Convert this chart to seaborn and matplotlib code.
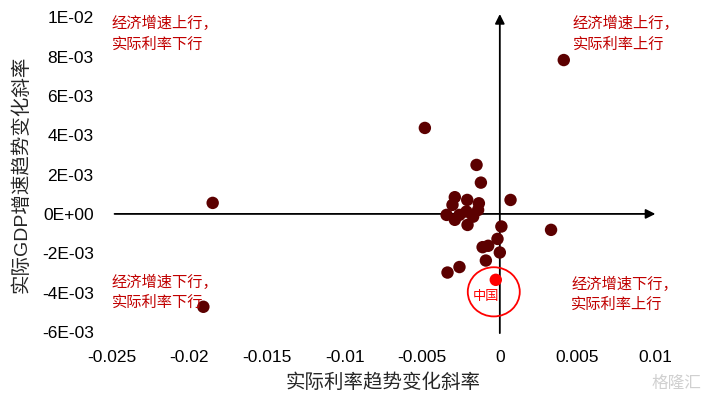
import matplotlib.pyplot as plt
import seaborn as sns
import pandas as pd
from matplotlib.patches import Ellipse

# 实际利率趋势变化斜率 / 实际GDP增速趋势变化斜率
rate_slope = [0.00412, -0.0185, -0.0191, -0.00483, 0.0033, 0.00069,
              -0.0015, -0.00122, -0.0029, -0.0021, -0.00135, -0.00305,
              -0.00343, -0.0029, -0.00215, -0.00172, -0.0014, -0.00208,
              -0.0026, 0.0001, -0.00015, -0.00111, -0.00075, 0.0,
              -0.0009, -0.0026, -0.00337]
gdp_slope = [0.00782, 0.00056, -0.00472, 0.00437, -0.00081, 0.00071,
             0.00249, 0.00159, 0.00085, 0.00071, 0.00054, 0.00046,
             -0.00005, -0.0003, 0.00012, -0.00014, 0.0002, -0.00056,
             -0.00005, -0.00064, -0.00127, -0.00169, -0.00162, -0.00196,
             -0.00237, -0.0027, -0.00298]
china_rate = [-0.00026]
china_gdp = [-0.00335]

xticks = [-0.025, -0.02, -0.015, -0.01, -0.005, 0, 0.005, 0.01]
xtick_labels = ['-0.025', '-0.02', '-0.015', '-0.01', '-0.005', '0', '0.005', '0.01']
yticks = [-0.006, -0.004, -0.002, 0, 0.002, 0.004, 0.006, 0.008, 0.01]
ytick_labels = ['-6E-03', '-4E-03', '-2E-03', '0E+00', '2E-03', '4E-03', '6E-03', '8E-03', '1E-02']

quadrant_labels = {
    'tl': '经济增速上行，\n实际利率下行',
    'tr': '经济增速上行，\n实际利率上行',
    'bl': '经济增速下行，\n实际利率下行',
    'br': '经济增速下行，\n实际利率上行',
}

sns.set_theme(style='white')
plt.rcParams['font.family'] = ['Liberation Sans', 'Noto Sans CJK SC']

df = pd.DataFrame({'x': rate_slope, 'y': gdp_slope})
cn = pd.DataFrame({'x': china_rate, 'y': china_gdp})

fig = plt.figure(figsize=(7.12, 3.99), dpi=100)
ax = fig.add_axes([0.157, 0.168, 0.763, 0.789])

sns.scatterplot(data=df, x='x', y='y', color='#5C0000', s=80, edgecolor='none', ax=ax, zorder=3)
sns.scatterplot(data=cn, x='x', y='y', color='#FF0000', s=80, edgecolor='none', ax=ax, zorder=3)

ax.set_xlim(-0.025, 0.01)
ax.set_ylim(-0.006, 0.01)
ax.set_xticks(xticks)
ax.set_xticklabels(xtick_labels)
ax.set_yticks(yticks)
ax.set_yticklabels(ytick_labels)
ax.tick_params(length=0, labelsize=12.5, colors='black')
ax.tick_params(axis='x', pad=13)
ax.tick_params(axis='y', pad=13)
for s in ax.spines.values():
    s.set_visible(False)

# arrows through the origin
ax.annotate('', xy=(0.0102, 0), xytext=(-0.025, 0),
            arrowprops=dict(arrowstyle='-|>', color='black', lw=1.3, mutation_scale=14),
            annotation_clip=False, zorder=2)
ax.annotate('', xy=(0, 0.0103), xytext=(0, -0.0062),
            arrowprops=dict(arrowstyle='-|>', color='black', lw=1.3, mutation_scale=14),
            annotation_clip=False, zorder=2)

ax.set_xlabel('实际利率趋势变化斜率', fontsize=14, labelpad=6)
ax.set_ylabel('实际GDP增速趋势变化斜率', fontsize=14, labelpad=8)

red = '#C00000'
kw = dict(color=red, fontsize=11, va='top', ha='left', linespacing=1.55)
ax.text(-0.025, 0.01005, quadrant_labels['tl'], **kw)
ax.text(0.0047, 0.01005, quadrant_labels['tr'], **kw)
ax.text(-0.025, -0.0031, quadrant_labels['bl'], **kw)
ax.text(0.0046, -0.0032, quadrant_labels['br'], **kw)

ax.add_patch(Ellipse((-0.00039, -0.00396), width=0.00335, height=0.0025,
                     fill=False, edgecolor='#FF0000', lw=1.3, zorder=4))
ax.text(-0.00086, -0.0042, '中国', color='#FF0000', fontsize=9.5, ha='center', va='center')

fig.text(0.985, 0.02, '格隆汇', color='#D0D0D0', fontsize=12, ha='right', va='bottom')

plt.savefig('out.png', dpi=100)
